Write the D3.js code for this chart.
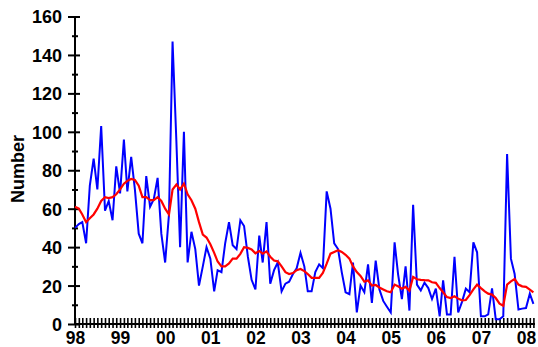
<!DOCTYPE html>
<html>
<head>
<meta charset="utf-8">
<script src="https://cdn.jsdelivr.net/npm/d3@7"></script>
<style>
  html, body { margin: 0; padding: 0; background: #fff; }
  svg { display: block; }
  text { font-family: "Liberation Sans", Arial, sans-serif; font-weight: bold; fill: #000; }
</style>
</head>
<body>
<svg id="chart" width="538" height="347"></svg>
<script>
// Monthly counts from January 1998 to March 2008
const firstMonth = "1998-01-01";
const monthlyCounts = [
  50, 52, 53, 42, 72, 86, 70, 103, 59, 64, 54, 82,
  68, 96, 69, 87, 70, 47, 42, 77, 61, 65, 76, 47,
  32, 57, 147, 95, 40, 100, 32, 48, 39, 20, 30, 40,
  34, 17, 28, 27, 42, 53, 41, 39, 54, 51, 35, 23,
  18, 46, 32, 53, 21, 28, 32, 17, 21, 22, 26, 29,
  37, 30, 17, 17, 27, 31, 29, 69, 60, 42, 39, 27,
  16.5, 15.5, 32, 6, 20, 16.5, 31, 11, 33, 18, 12, 9,
  6, 42.5, 26, 13, 30, 7, 62, 20.5, 17.5, 21.5, 18.7, 13,
  18.4, 4, 22.7, 5, 5, 35, 6, 11.5, 18.4, 16.5, 42.5, 37.3,
  4, 4, 5, 18.5, 2.5, 2.5, 4, 88.5, 34, 26, 7.5, 8,
  8.3, 15.8, 10.5
];
// Smoothed trend of the same counts
const smoothedCounts = [
  61, 60, 57, 53, 55, 57, 60, 64, 66, 65.5, 66, 67.5,
  70, 73, 74.5, 75.5, 75, 72, 66, 66, 64.5, 64.5, 66, 64,
  60, 57, 70, 72.6, 70, 73, 67.5, 64.4, 60, 53, 46.5, 45,
  41.5, 37, 32.5, 30, 30, 31.5, 34, 34, 36.5, 40, 39.6, 38.8,
  36.8, 38, 36.6, 37.8, 35, 33, 32.6, 30, 27, 26, 26.5, 28,
  28.6, 27.5, 26, 24, 24, 24, 26.6, 31.4, 36.6, 37.5, 38.4, 37.5,
  36, 34, 30, 27, 25, 22, 22.7, 20, 20.3, 19, 18, 17,
  16.5, 20.5, 19.6, 18.4, 19.3, 17.4, 24.5, 23.3, 23, 22.8, 22.7, 21.7,
  21.4, 18.7, 16.5, 14, 13.5, 14.4, 13.2, 12.3, 12.5, 15, 18, 20.5,
  18.7, 17, 15.8, 15.3, 13.5, 10.6, 9.5, 20.5, 22.2, 23.4, 20.5, 19.6,
  19.3, 17.9, 16.5
];
const yearLabels = ["98", "99", "00", "01", "02", "03", "04", "05", "06", "07", "08"];
const yMajorTicks = [0, 20, 40, 60, 80, 100, 120, 140, 160];
const yMinorTicks = [10, 30, 50, 70, 90, 110, 130, 150];

const svg = d3.select("#chart");
const start = new Date(firstMonth + "T00:00:00Z");
const dates = monthlyCounts.map((_, i) => d3.utcMonth.offset(start, i));

const x = d3.scaleUtc()
  .domain([dates[0], dates[dates.length - 1]])
  .range([75, 533.4]);
const y = d3.scaleLinear().domain([0, 160]).range([324, 16.5]);

// Y axis: major ticks with labels, minor ticks without
const yAxis = svg.append("g").attr("transform", "translate(75,0)")
  .call(d3.axisLeft(y).tickValues(yMajorTicks).tickFormat(d3.format("d")));
yAxis.select(".domain").remove();
yAxis.selectAll(".tick line").attr("x1", -7).attr("x2", 5)
  .attr("stroke", "#000").attr("stroke-width", 2);
yAxis.selectAll(".tick text").attr("x", -13).attr("dy", "0.36em")
  .style("font-size", "18px").attr("text-anchor", "end");

const yMinor = svg.append("g").attr("transform", "translate(75,0)")
  .call(d3.axisLeft(y).tickValues(yMinorTicks).tickFormat(""));
yMinor.select(".domain").remove();
yMinor.selectAll(".tick line").attr("x1", -3).attr("x2", 3)
  .attr("stroke", "#000").attr("stroke-width", 2);

// X axis: one tick per month, year labels in January
const monthTicks = d3.utcMonth.range(dates[0], d3.utcMonth.offset(dates[dates.length - 1], 1));
const xAxis = svg.append("g").attr("transform", "translate(0,324)")
  .call(d3.axisBottom(x).tickValues(monthTicks)
    .tickFormat(d => d.getUTCMonth() === 0 ? yearLabels[d.getUTCFullYear() - 1998] : ""));
xAxis.select(".domain").remove();
xAxis.selectAll(".tick line").attr("y1", -6).attr("y2", 4)
  .attr("stroke", "#000").attr("stroke-width", 1.6);
xAxis.selectAll(".tick text").attr("y", 19.5).attr("dy", 0)
  .style("font-size", "17.5px");

// Axis lines
svg.append("line").attr("x1", 75).attr("x2", 75).attr("y1", y(160)).attr("y2", 325)
  .attr("stroke", "#000").attr("stroke-width", 2);
svg.append("line").attr("x1", 74).attr("x2", 535).attr("y1", 324).attr("y2", 324)
  .attr("stroke", "#000").attr("stroke-width", 2);

// Axis title
svg.append("text")
  .attr("transform", "translate(24,169) rotate(-90)")
  .attr("text-anchor", "middle")
  .style("font-size", "18px")
  .text("Number");

// Series
const line = d3.line().x((d, i) => x(dates[i])).y(d => y(d));
svg.append("path").datum(monthlyCounts)
  .attr("d", line).attr("fill", "none")
  .attr("stroke", "#0000ff").attr("stroke-width", 2);
svg.append("path").datum(smoothedCounts)
  .attr("d", line).attr("fill", "none")
  .attr("stroke", "#ff0000").attr("stroke-width", 2.2);
</script>
</body>
</html>
